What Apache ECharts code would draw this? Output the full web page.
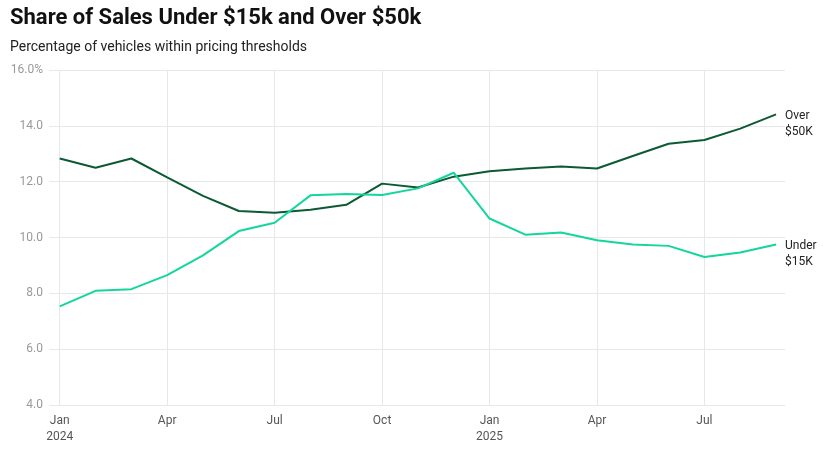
<!DOCTYPE html>
<html>
<head>
<meta charset="utf-8">
<script src="https://cdn.jsdelivr.net/npm/echarts@6/dist/echarts.min.js"></script>
<style>
html,body{margin:0;padding:0;background:#fff;}
#chart{width:823px;height:453px;}
</style>
</head>
<body>
<div id="chart"></div>
<script>
const months = ["Jan 2024","Feb 2024","Mar 2024","Apr 2024","May 2024","Jun 2024","Jul 2024","Aug 2024","Sep 2024","Oct 2024","Nov 2024","Dec 2024",
  "Jan 2025","Feb 2025","Mar 2025","Apr 2025","May 2025","Jun 2025","Jul 2025","Aug 2025","Sep 2025"];
const over50k = [12.83,12.50,12.83,12.15,11.49,10.95,10.89,10.99,11.17,11.93,11.79,12.18,12.37,12.47,12.54,12.47,12.92,13.36,13.49,13.90,14.41];
const under15k = [7.53,8.09,8.15,8.65,9.36,10.23,10.53,11.51,11.56,11.52,11.76,12.32,10.68,10.10,10.18,9.90,9.75,9.70,9.30,9.46,9.75];
const tickIdx = [0,3,6,9,12,15,18];
const tickLabels = {0:"Jan\n2024",3:"Apr",6:"Jul",9:"Oct",12:"Jan\n2025",15:"Apr",18:"Jul"};
const seriesNames = ["Over\n$50K","Under\n$15K"];

const chart = echarts.init(document.getElementById('chart'));
const font = 'Roboto, "Noto Sans", sans-serif';
function pairs(arr){ return arr.map((v,i)=>[i,v]); }
chart.setOption({
  animation:false,
  title:{
    text:'Share of Sales Under $15k and Over $50k',
    subtext:'Percentage of vehicles within pricing thresholds',
    left:5, top:2, itemGap:11,
    textStyle:{fontFamily:font,fontWeight:'bold',fontSize:22,color:'#111'},
    subtextStyle:{fontFamily:font,fontSize:14,color:'#222'}
  },
  grid:{left:49,right:38,top:70,bottom:48},
  xAxis:{
    type:'value', min:-0.3, max:20.25,
    axisLine:{show:false}, axisTick:{show:false, customValues:tickIdx},
    axisLabel:{customValues:tickIdx, formatter:v=>tickLabels[Math.round(v)]||'', color:'#555', fontFamily:font, fontSize:12, margin:8, lineHeight:16},
    splitLine:{show:true,lineStyle:{color:'#e8e8e8',width:1}}
  },
  yAxis:{
    type:'value', min:4, max:16, interval:2,
    axisLine:{show:false}, axisTick:{show:false},
    axisLabel:{formatter:v=>v===16?'16.0%':v.toFixed(1), color:'#999', fontFamily:font, fontSize:12, margin:6},
    splitLine:{lineStyle:{color:'#e8e8e8',width:1}}
  },
  series:[
    {name:seriesNames[0], type:'line', data:pairs(over50k), showSymbol:false, symbol:'none',
     lineStyle:{color:'#0b5a32',width:2}, itemStyle:{color:'#0b5a32'},
     endLabel:{show:true, formatter:seriesNames[0], color:'#222', fontFamily:font, fontSize:12, lineHeight:16, distance:9, verticalAlign:'top', offset:[0,-6]}},
    {name:seriesNames[1], type:'line', data:pairs(under15k), showSymbol:false, symbol:'none',
     lineStyle:{color:'#14d69c',width:2}, itemStyle:{color:'#14d69c'},
     endLabel:{show:true, formatter:seriesNames[1], color:'#222', fontFamily:font, fontSize:12, lineHeight:16, distance:9, verticalAlign:'top', offset:[0,-6]}}
  ]
});
</script>
</body>
</html>
